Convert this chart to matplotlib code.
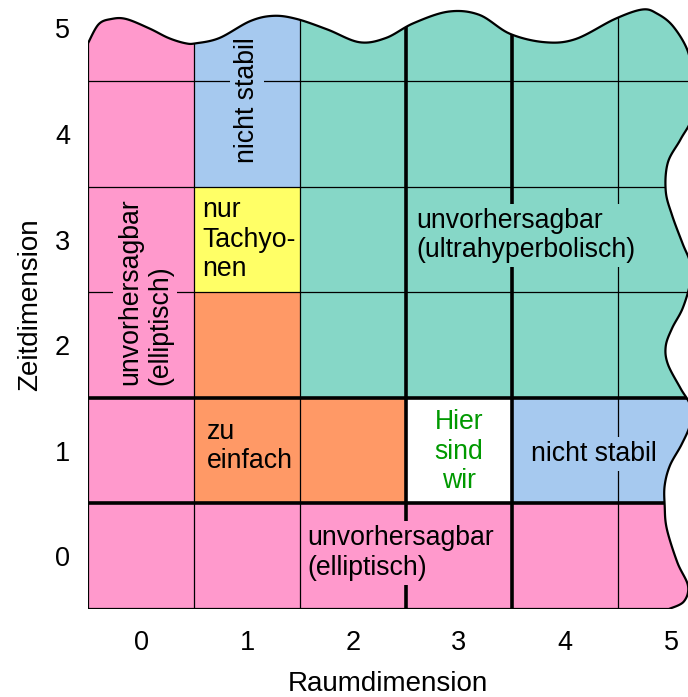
import numpy as np
import matplotlib
matplotlib.use("Agg")
import matplotlib.pyplot as plt
from matplotlib.patches import Rectangle, PathPatch
from matplotlib.path import Path

plt.rcParams['font.family'] = ['Liberation Sans', 'DejaVu Sans']

# Raumdimension (x) und Zeitdimension (y)
raum = [0, 1, 2, 3, 4, 5]
zeit = [0, 1, 2, 3, 4, 5]

# Farbcode je Zelle: Zeile = Zeitdimension, Spalte = Raumdimension
P, B, T, Y, O, W = 'pink', 'blau', 'tuerkis', 'gelb', 'orange', 'weiss'
zellen = [
    [P, P, P, P, P, P],   # zeit 0
    [P, O, O, W, B, B],   # zeit 1
    [P, O, T, T, T, T],   # zeit 2
    [P, Y, T, T, T, T],   # zeit 3
    [P, B, T, T, T, T],   # zeit 4
    [P, B, T, T, T, T],   # zeit 5
]
farben = {
    'pink': '#ff99cc',
    'blau': '#a6c9ef',
    'tuerkis': '#86d7c7',
    'gelb': '#ffff66',
    'orange': '#ff9966',
    'weiss': '#ffffff',
}

# Beschriftungen: (text, x, y, rotation, ha, farbe, hintergrund)
labels = [
    ("nicht stabil", 1.0, 4.32, 90, 'center', 'black', 'blau'),
    ("unvorhersagbar\n(elliptisch)", 0.04, 2.51, 90, 'center', 'black', 'pink'),
    ("nur\nTachyo-\nnen", 0.58, 3.0, 0, 'left', 'black', None),
    ("zu\neinfach", 0.62, 1.04, 0, 'left', 'black', None),
    ("Hier\nsind\nwir", 3.0, 0.99, 0, 'center', '#009900', None),
    ("nicht stabil", 4.27, 0.97, 0, 'center', 'black', 'blau'),
    ("unvorhersagbar\n(elliptisch)", 1.57, 0.03, 0, 'left', 'black', 'pink'),
    ("unvorhersagbar\n(ultrahyperbolisch)", 2.6, 3.04, 0, 'left', 'black', 'tuerkis'),
]

# gewellter Rand oben und rechts (nur Dekoration)
rand_oben_rechts = np.array([
    (-0.50, 4.86), (-0.40, 5.04), (-0.28, 5.09), (-0.14, 5.09), (0.08, 5.00),
    (0.26, 4.91), (0.42, 4.86), (0.52, 4.86), (0.74, 4.91), (1.03, 5.07),
    (1.25, 5.12), (1.47, 5.09), (1.76, 4.99), (2.06, 4.87), (2.31, 4.91),
    (2.57, 5.05), (2.90, 5.16), (3.19, 5.13), (3.48, 4.95), (3.81, 4.87),
    (4.10, 4.90), (4.47, 5.09), (4.73, 5.18), (4.87, 5.14), (5.02, 5.02),
    (5.16, 4.78), (5.20, 4.50), (5.20, 4.17), (5.09, 3.95), (4.97, 3.73),
    (4.95, 3.46), (5.01, 3.23), (5.11, 2.96), (5.18, 2.78), (5.18, 2.59),
    (5.11, 2.35), (5.01, 2.16), (4.95, 1.99), (4.97, 1.82), (5.09, 1.59),
    (5.18, 1.43), (5.18, 1.25), (5.10, 1.06), (4.99, 0.86), (4.94, 0.67),
    (4.94, 0.48), (4.96, 0.26), (5.06, -0.06), (5.16, -0.28), (5.12, -0.43),
    (4.98, -0.50),
])


def glatt(pts, n=12):
    # Catmull-Rom durch die Randpunkte
    p = np.vstack([pts[0], pts, pts[-1]])
    t = np.linspace(0, 1, n, endpoint=False)[:, None]
    out = []
    for i in range(1, len(p) - 2):
        p0, p1, p2, p3 = p[i - 1], p[i], p[i + 1], p[i + 2]
        out.append(0.5 * (2 * p1 + (-p0 + p2) * t
                          + (2 * p0 - 5 * p1 + 4 * p2 - p3) * t ** 2
                          + (-p0 + 3 * p1 - 3 * p2 + p3) * t ** 3))
    out.append(p[-2][None])
    return np.vstack(out)


fig = plt.figure(figsize=(6.88, 6.97), dpi=100)
ax = fig.add_axes([88 / 688, 88 / 697, 600 / 688, 609 / 697])
ax.set_xlim(-0.5, 5.16)
ax.set_ylim(-0.5, 5.27)

kurve = glatt(rand_oben_rechts)
verts = np.vstack([[(-0.5, -0.5)], kurve, [(-0.5, -0.5)]])
rand = Path(verts, closed=True)
clip = PathPatch(rand, transform=ax.transData, facecolor='none', edgecolor='none')
ax.add_patch(clip)

# Zellen
for j, y in enumerate(zeit):
    for i, x in enumerate(raum):
        r = Rectangle((x - 0.5, y - 0.5), 1, 1, facecolor=farben[zellen[j][i]],
                      edgecolor='none', zorder=1)
        ax.add_patch(r)
        r.set_clip_path(clip)

# Gitterlinien
duenn_x = [0.5, 1.5, 4.5]
duenn_y = [2.5, 3.5, 4.5]
dick_x = [2.5, 3.5]
dick_y = [0.5, 1.5]
for x in duenn_x:
    ax.axvline(x, color='black', lw=0.9, zorder=2).set_clip_path(clip)
for y in duenn_y:
    ax.axhline(y, color='black', lw=0.9, zorder=2).set_clip_path(clip)
for x in dick_x:
    ax.axvline(x, color='black', lw=2.6, zorder=2).set_clip_path(clip)
for y in dick_y:
    ax.axhline(y, color='black', lw=2.6, zorder=2).set_clip_path(clip)

# Umriss
ax.add_patch(PathPatch(rand, facecolor='none', edgecolor='black', lw=1.6, zorder=4))

for txt, x, y, rot, ha, col, bg in labels:
    kw = {}
    if bg is not None:
        kw['bbox'] = dict(boxstyle='square,pad=0.15', facecolor=farben[bg], edgecolor='none')
    ax.text(x, y, txt, rotation=rot, ha=ha, va='center', multialignment=ha if rot == 0 else 'left',
            color=col, fontsize=19.2, linespacing=1.18, zorder=3, **kw)

for s in ax.spines.values():
    s.set_visible(False)
ax.set_xticks(raum)
ax.set_yticks(zeit)
ax.tick_params(length=0, labelsize=19.5)
ax.tick_params(axis='x', pad=15)
ax.tick_params(axis='y', pad=13)
ax.set_xlabel('Raumdimension', fontsize=20, labelpad=11)
ax.set_ylabel('Zeitdimension', fontsize=20, labelpad=8)

fig.savefig('out.png', dpi=100)
